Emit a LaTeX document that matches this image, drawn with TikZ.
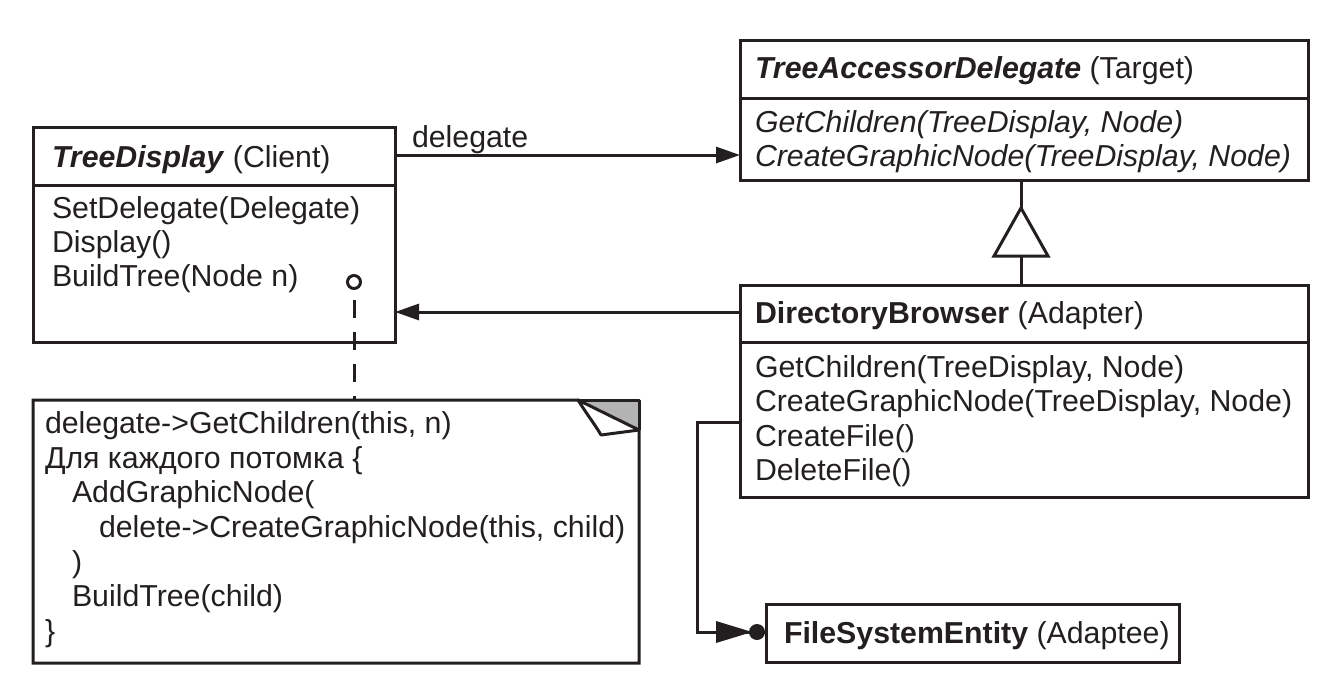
\documentclass[tikz,border=0pt]{standalone}
\usepackage{fontspec}
\setmainfont{Liberation Sans}
\usetikzlibrary{arrows.meta}
\definecolor{ink}{HTML}{231F20}
\definecolor{flap}{HTML}{B3B3B3}
\begin{document}
\begin{tikzpicture}[x=1pt,y=-1pt,
  every node/.style={inner sep=0pt,outer sep=0pt},
  box/.style={draw=ink,line width=3pt,anchor=north west},
  txt/.style={anchor=base west,text=ink,font=\fontsize{30.3}{35}\selectfont},
  conn/.style={draw=ink,line width=3pt},
  tip/.style={-{Triangle[length=24pt,width=16pt]}}
]
\useasboundingbox (0,0) rectangle (1327,697);

% boxes
\node[box,minimum width=362pt,minimum height=215pt] (td) at (33,127) {};
\node[box,minimum width=568pt,minimum height=140pt] (tad) at (740,40) {};
\node[box,minimum width=568pt,minimum height=212pt] (db) at (740,285) {};
\node[box,minimum width=413pt,minimum height=58pt] (fse) at (766,604) {};

% separators
\draw[conn] (td.west |- 0,185) -- (td.east |- 0,185);
\draw[conn] (tad.west |- 0,98) -- (tad.east |- 0,98);
\draw[conn] (db.west |- 0,342) -- (db.east |- 0,342);

% TreeDisplay text
\node[txt] (tdt) at (52,167) {\textbf{\textit{TreeDisplay}} (Client)};
\node[txt] (td1) at (52,218) {SetDelegate(Delegate)};
\node[txt] (td2) at (52,252) {Display()};
\node[txt] (td3) at (52,286) {BuildTree(Node n)};

% TreeAccessorDelegate text
\node[txt] (tadt) at (755,78) {\textbf{\textit{TreeAccessorDelegate}} (Target)};
\node[txt] (tad1) at (755,132) {\textit{GetChildren(TreeDisplay, Node)}};
\node[txt] (tad2) at (755,166) {\textit{CreateGraphicNode(TreeDisplay, Node)}};

% DirectoryBrowser text
\node[txt] (dbt) at (755,323) {\textbf{DirectoryBrowser} (Adapter)};
\node[txt] (db1) at (755,377) {GetChildren(TreeDisplay, Node)};
\node[txt] (db2) at (755,411) {CreateGraphicNode(TreeDisplay, Node)};
\node[txt] (db3) at (755,446) {CreateFile()};
\node[txt] (db4) at (755,480) {DeleteFile()};

% FileSystemEntity
\node[txt] (fset) at (784,643) {\textbf{FileSystemEntity} (Adaptee)};

% note
\draw[conn,fill=white] (33,400) -- (578,400) -- (639,430) -- (639,663) -- (33,663) -- cycle;
\node[inner sep=0pt] (note) at (336,531) {};
\fill[flap] (578,400) -- (639,400) -- (639,430) -- cycle;
\draw[conn,line join=round] (578,400) -- (639,400) -- (639,430);
\draw[conn,fill=white,line join=round] (578,400) .. controls (588,416) and (596,426) .. (601,435) -- (639,430) -- cycle;

\node[txt] (n1) at (45,433) {delegate->GetChildren(this, n)};
\node[txt] (n2) at (45,468) {Для каждого потомка \{};
\node[txt] (n3) at (72,502) {AddGraphicNode(};
\node[txt] (n4) at (99,537) {delete->CreateGraphicNode(this, child)};
\node[txt] (n5) at (72,572) {)};
\node[txt] (n6) at (72,606) {BuildTree(child)};
\node[txt] (n7) at (45,641) {\}};

% delegate association
\draw[conn,tip] (td.east |- 0,155) -- node[at start,txt,anchor=base west,shift={(17,-8)}] (dl) {delegate} (tad.west |- 0,155);

% adapter -> client
\draw[conn,tip] (db.west |- 0,312) -- (td.east |- 0,312);

% inheritance
\coordinate (apex) at (1021,208);
\coordinate (basec) at (1021,256);
\draw[conn] (db.north -| apex) -- (basec);
\draw[conn] (tad.south -| apex) -- (apex);
\draw[conn,fill=white,line join=miter] (apex) -- (1048,256) -- (994,256) -- cycle;

% note anchor circle and dashed line
\node[draw=ink,line width=3pt,circle,minimum size=13pt,fill=white] (dot) at (354,282) {};
\draw[conn,dash pattern=on 18pt off 14pt] (354,300) -- (354,400);

% adaptee connector
\coordinate (c1) at (697,422);
\coordinate (c2) at (697,632);
\draw[conn] (db.west |- c1) -- (c1) -- (c2) -- (fse.west |- c2);
\fill[ink] (716,621) -- (752,632) -- (716,643) -- cycle;
\fill[ink] (757,632) circle (8pt);
\end{tikzpicture}
\end{document}
